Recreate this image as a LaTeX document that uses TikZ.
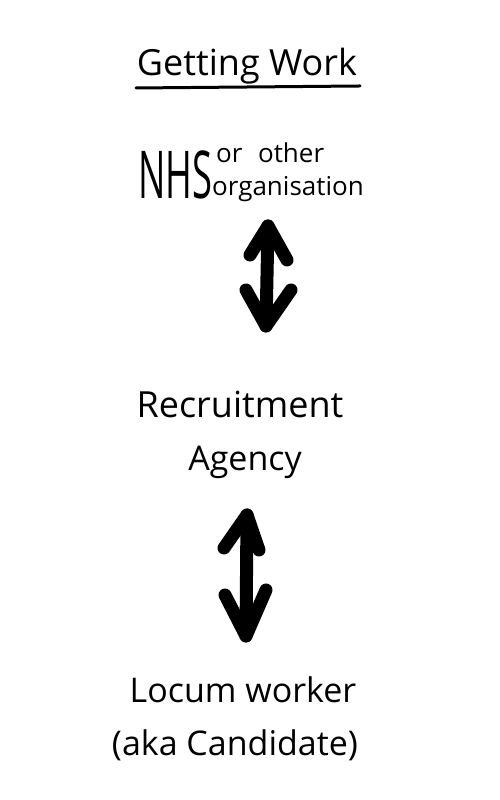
\documentclass[tikz,border=0pt]{standalone}
\usepackage{fontspec}
\setmainfont{Open Sans}
\begin{document}
\begin{tikzpicture}[x=1pt,y=1pt,
  lbl/.style={inner sep=0pt,anchor=center,text=black},
  big/.style={lbl,font=\fontsize{34}{40}\selectfont},
  small/.style={lbl,font=\fontsize{26}{30}\selectfont},
  stroke/.style={line width=13pt,line cap=round,line join=round,black}]
\useasboundingbox (0,0) rectangle (500,800);
\fill[white] (0,0) rectangle (500,800);
% title
\node[big,font=\fontsize{36}{40}\selectfont] (title) at (247,734) {Getting Work};
\coordinate (ul1) at (136,712);
\coordinate (ul2) at (360,714);
\draw[line width=3pt,line cap=round] (ul1) -- (ul2);
% NHS
\node[lbl,font=\fontsize{66}{70}\selectfont,anchor=west,xscale=0.55] (nhs) at (138,625) {NHS};
\node[small,anchor=west] (or) at (216,647) {or\hspace{0.6em}other};
\node[small,anchor=west] (org) at (212,611) {organisation};
% arrow 1
\coordinate (a1t) at (268,574);
\coordinate (a1b) at (266,474);
\draw[stroke] (a1t) -- (a1b);
\draw[stroke] (250,545) -- (a1t) -- (287,540);
\draw[stroke] (246,510) -- (a1b) -- (291,510);
% Recruitment Agency
\node[big,font=\fontsize{36}{40}\selectfont] (rec) at (240,396) {Recruitment};
\node[big] (ag) at (245,338) {Agency};
% arrow 2
\coordinate (a2t) at (247,285);
\coordinate (a2b) at (246,164);
\draw[stroke] (a2t) -- (a2b);
\draw[stroke] (224,252) -- (a2t) -- (259,250);
\draw[stroke] (225,205) -- (a2b) -- (266,210);
% Locum
\node[big] (loc) at (243,110) {Locum worker};
\node[big] (aka) at (235,55) {(aka Candidate)};
\end{tikzpicture}
\end{document}
